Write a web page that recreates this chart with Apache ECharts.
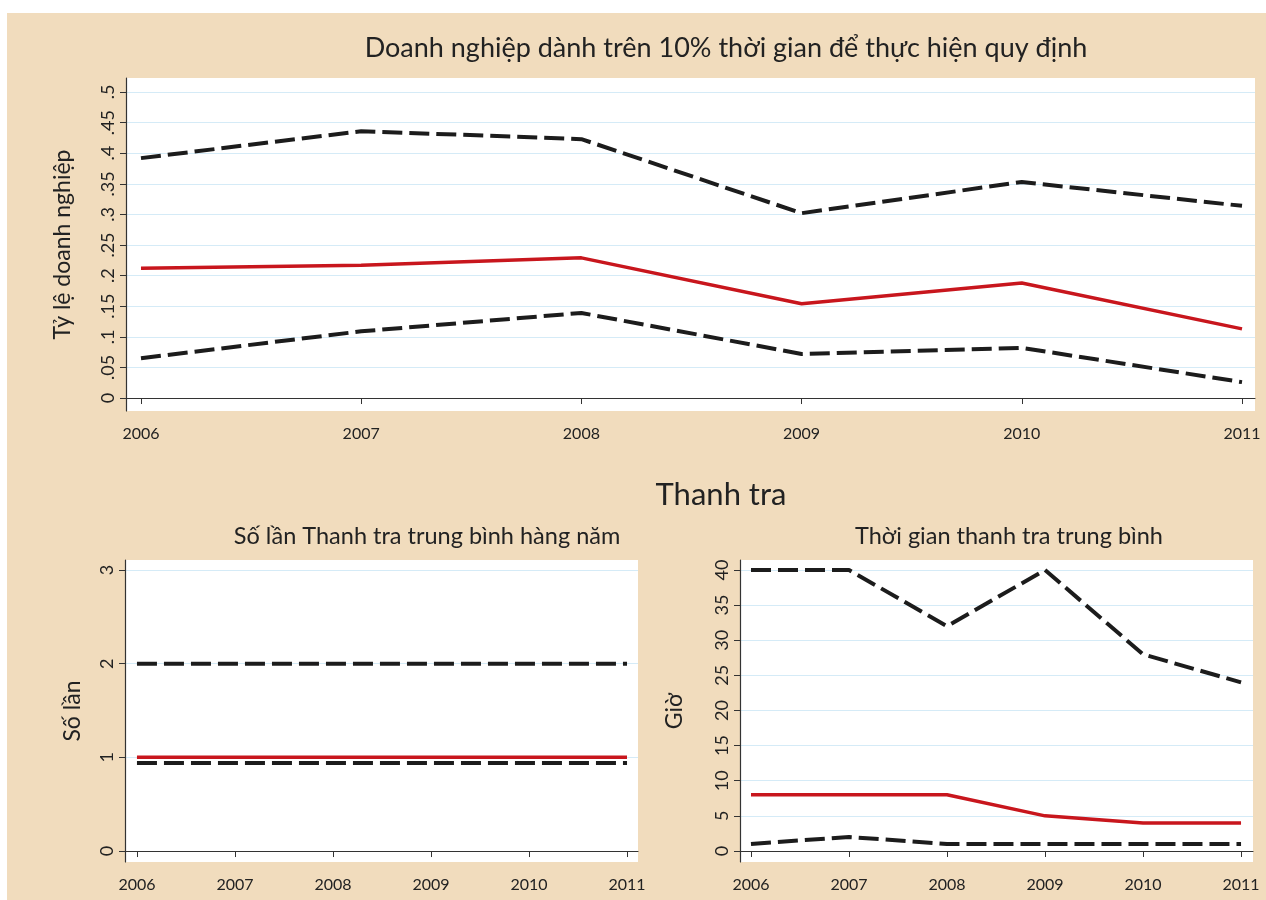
<!DOCTYPE html>
<html>
<head>
<meta charset="utf-8">
<script src="https://cdn.jsdelivr.net/npm/echarts@6/dist/echarts.min.js"></script>
<style>
  html, body { margin: 0; padding: 0; background: #fff; }
  #ct { width: 1266px; height: 900px; }
</style>
</head>
<body>
<div id="ct"></div>
<script>
// năm
const years = [2006, 2007, 2008, 2009, 2010, 2011];

// Doanh nghiệp dành trên 10% thời gian để thực hiện quy định
const topMean = [0.212, 0.217, 0.229, 0.154, 0.188, 0.113];
const topUpper = [0.392, 0.436, 0.423, 0.302, 0.353, 0.314];
const topLower = [0.065, 0.109, 0.139, 0.072, 0.082, 0.026];
const topTicks = [0, 0.05, 0.1, 0.15, 0.2, 0.25, 0.3, 0.35, 0.4, 0.45, 0.5];

// Số lần thanh tra trung bình hàng năm
const countMean = [1, 1, 1, 1, 1, 1];
const countUpper = [2, 2, 2, 2, 2, 2];
const countLower = [0.94, 0.94, 0.94, 0.94, 0.94, 0.94];
const countTicks = [0, 1, 2, 3];

// Thời gian thanh tra trung bình (giờ)
const hoursMean = [8, 8, 8, 5, 4, 4];
const hoursUpper = [40, 40, 32, 40, 28, 24];
const hoursLower = [1, 2, 1, 1, 1, 1];
const hoursTicks = [0, 5, 10, 15, 20, 25, 30, 35, 40];

const FONT = "Lato, 'Noto Sans', sans-serif";
const RED = "#c8161d";
const DARK = "#1c1c1c";
const GRID_LINE = "#d5ebf7";

const chart = echarts.init(document.getElementById("ct"));

function pair(xs, ys) {
  return xs.map((x, i) => [x, ys[i]]);
}

function fmtDot(v) {
  if (v === 0) return "0";
  return String(+v.toFixed(2)).replace(/^0\./, ".");
}

function xAx(idx, min, max) {
  return {
    gridIndex: idx,
    type: "value",
    min: min,
    max: max,
    axisLine: { lineStyle: { color: "#333", width: 1.2 } },
    axisTick: { customValues: years, length: 6, lineStyle: { color: "#333" } },
    axisLabel: {
      customValues: years,
      formatter: v => String(v),
      fontFamily: FONT,
      fontSize: 16,
      color: "#222",
      margin: 15
    },
    splitLine: { show: false }
  };
}

function yAx(idx, min, max, ticks, name, gap, fmt) {
  return {
    gridIndex: idx,
    type: "value",
    min: min,
    max: max,
    name: name,
    nameLocation: "middle",
    nameRotate: 90,
    nameGap: gap,
    nameTextStyle: { fontFamily: FONT, fontSize: 23, color: "#222" },
    axisLine: { show: true, lineStyle: { color: "#333", width: 1.2 } },
    axisTick: { show: true, customValues: ticks, length: 6, lineStyle: { color: "#333" } },
    axisLabel: {
      customValues: ticks,
      rotate: 90,
      formatter: fmt,
      fontFamily: FONT,
      fontSize: 18,
      color: "#222",
      margin: 9
    },
    splitLine: { show: true, lineStyle: { color: GRID_LINE, width: 1.2 } }
  };
}

function line(idx, ys, dashed) {
  return {
    type: "line",
    xAxisIndex: idx,
    yAxisIndex: idx,
    data: pair(years, ys),
    showSymbol: false,
    symbol: "none",
    lineStyle: dashed
      ? { color: DARK, width: 4, type: [20, 7] }
      : { color: RED, width: 3.5 },
    z: dashed ? 3 : 4
  };
}

const option = {
  animation: false,
  backgroundColor: "#fff",
  graphic: [
    {
      type: "rect",
      left: 7,
      top: 13,
      shape: { width: 1259, height: 887 },
      style: { fill: "#f1dcbd" },
      z: -10
    }
  ],
  title: [
    {
      text: "Doanh nghiệp dành trên 10% thời gian để thực hiện quy định",
      left: 721, top: 30, textAlign: "center",
      textStyle: { fontFamily: FONT, fontSize: 27, fontWeight: "normal", color: "#222" }
    },
    {
      text: "Thanh tra",
      left: 716, top: 474, textAlign: "center",
      textStyle: { fontFamily: FONT, fontSize: 31, fontWeight: "normal", color: "#222" }
    },
    {
      text: "Số lần Thanh tra trung bình hàng năm",
      left: 422, top: 519, textAlign: "center",
      textStyle: { fontFamily: FONT, fontSize: 23.5, fontWeight: "normal", color: "#222" }
    },
    {
      text: "Thời gian thanh tra trung bình",
      left: 1004, top: 519, textAlign: "center",
      textStyle: { fontFamily: FONT, fontSize: 23.5, fontWeight: "normal", color: "#222" }
    }
  ],
  grid: [
    { left: 126, right: 11, top: 78, bottom: 489, show: true, backgroundColor: "#fff", borderWidth: 0 },
    { left: 125, right: 628, top: 560, bottom: 38, show: true, backgroundColor: "#fff", borderWidth: 0 },
    { left: 740, right: 13, top: 560, bottom: 38, show: true, backgroundColor: "#fff", borderWidth: 0 }
  ],
  xAxis: [
    xAx(0, 2005.932, 2011.059),
    xAx(1, 2005.878, 2011.112),
    xAx(2, 2005.888, 2011.122)
  ],
  yAxis: [
    yAx(0, -0.0212, 0.5229, topTicks, "Tỷ lệ doanh nghiệp", 52, fmtDot),
    yAx(1, -0.117, 3.107, countTicks, "Số lần", 41, v => String(v)),
    yAx(2, -1.566, 41.42, hoursTicks, "Giờ", 54, v => String(v))
  ],
  series: [
    line(0, topUpper, true),
    line(0, topMean, false),
    line(0, topLower, true),
    line(1, countUpper, true),
    line(1, countMean, false),
    line(1, countLower, true),
    line(2, hoursUpper, true),
    line(2, hoursMean, false),
    line(2, hoursLower, true)
  ]
};

chart.setOption(option);
</script>
</body>
</html>
